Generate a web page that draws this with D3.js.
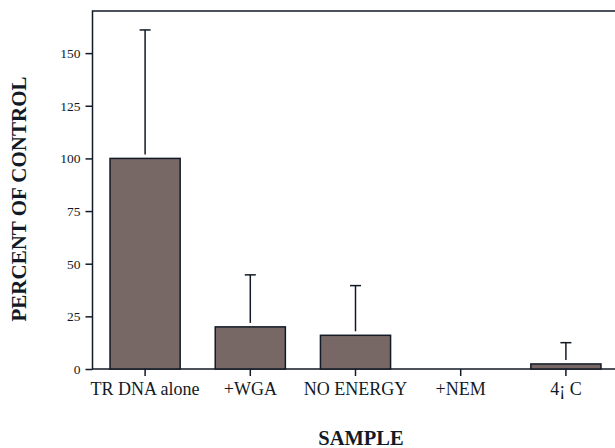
<!DOCTYPE html>
<html>
<head>
<meta charset="utf-8">
<script src="https://cdn.jsdelivr.net/npm/d3@7"></script>
<style>
  body { margin: 0; background: #fff; }
  svg text { font-family: "Liberation Serif", "Times New Roman", serif; fill: #111a26; }
</style>
</head>
<body>
<script>
const categories = ["TR DNA alone", "+WGA", "NO ENERGY", "+NEM", "4¡ C"];
const means = [100, 20, 16, 0, 2.4];
const errors = [61, 24.7, 23.6, 0, 10.1];
const yTicks = [0, 25, 50, 75, 100, 125, 150];

const WIDTH = 615, HEIGHT = 448;
const plotLeft = 92.5, plotTop = 11, plotBottom = 369, plotRight = 618.5;
const ink = "#111a26";

const svg = d3.select("body").append("svg")
  .attr("width", WIDTH).attr("height", HEIGHT);

const x = d3.scaleBand()
  .domain(categories)
  .range([plotLeft, plotRight])
  .paddingInner(1 / 3)
  .paddingOuter(1 / 6);

const y = d3.scaleLinear().domain([0, 170]).range([plotBottom, plotTop]);

// frame (top + left, right side runs off the page)
svg.append("rect")
  .attr("x", plotLeft).attr("y", plotTop)
  .attr("width", plotRight - plotLeft).attr("height", plotBottom - plotTop)
  .attr("fill", "none").attr("stroke", ink).attr("stroke-width", 1.5);

// bars
svg.selectAll("rect.bar")
  .data(categories)
  .enter().append("rect")
  .attr("class", "bar")
  .attr("x", d => x(d))
  .attr("y", (d, i) => y(means[i]))
  .attr("width", x.bandwidth())
  .attr("height", (d, i) => plotBottom - y(means[i]))
  .attr("fill", "#786865")
  .attr("stroke", ink)
  .attr("stroke-width", 1.5);

// error bars (upper only)
const err = svg.selectAll("g.err")
  .data(categories.filter((d, i) => errors[i] > 0))
  .enter().append("g").attr("class", "err")
  .attr("stroke", ink).attr("stroke-width", 1.5);

err.append("line")
  .attr("x1", d => x(d) + x.bandwidth() / 2)
  .attr("x2", d => x(d) + x.bandwidth() / 2)
  .attr("y1", d => { const i = categories.indexOf(d); return y(means[i] + errors[i]); })
  .attr("y2", d => { const i = categories.indexOf(d); return y(means[i]) - 4; });

err.append("line")
  .attr("x1", d => x(d) + x.bandwidth() / 2 - 5.5)
  .attr("x2", d => x(d) + x.bandwidth() / 2 + 5.5)
  .attr("y1", d => { const i = categories.indexOf(d); return y(means[i] + errors[i]); })
  .attr("y2", d => { const i = categories.indexOf(d); return y(means[i] + errors[i]); });

// y axis
const yAxis = svg.append("g")
  .attr("transform", `translate(${plotLeft},0)`)
  .call(d3.axisLeft(y).tickValues(yTicks).tickSize(7).tickPadding(5));
yAxis.select(".domain").remove();
yAxis.selectAll(".tick line").attr("stroke", ink).attr("stroke-width", 1.5);
yAxis.selectAll(".tick text")
  .style("font-family", "'Liberation Serif'")
  .attr("font-size", 13.5).attr("fill", ink);

// x axis
const xAxis = svg.append("g")
  .attr("transform", `translate(0,${plotBottom})`)
  .call(d3.axisBottom(x).tickSize(7).tickPadding(6));
xAxis.select(".domain").remove();
xAxis.selectAll(".tick line").attr("stroke", ink).attr("stroke-width", 1.5);
xAxis.selectAll(".tick text")
  .style("font-family", "'Liberation Serif'")
  .attr("font-size", 18).attr("fill", ink);

// axis titles
svg.append("text")
  .attr("x", (319 + 403) / 2).attr("y", 445)
  .attr("text-anchor", "middle")
  .attr("font-size", 20.5).attr("font-weight", "bold")
  .text("SAMPLE");

svg.append("text")
  .attr("transform", "translate(26,199) rotate(-90)")
  .attr("text-anchor", "middle")
  .attr("font-size", 21).attr("font-weight", "bold")
  .text("PERCENT OF CONTROL");
</script>
</body>
</html>
